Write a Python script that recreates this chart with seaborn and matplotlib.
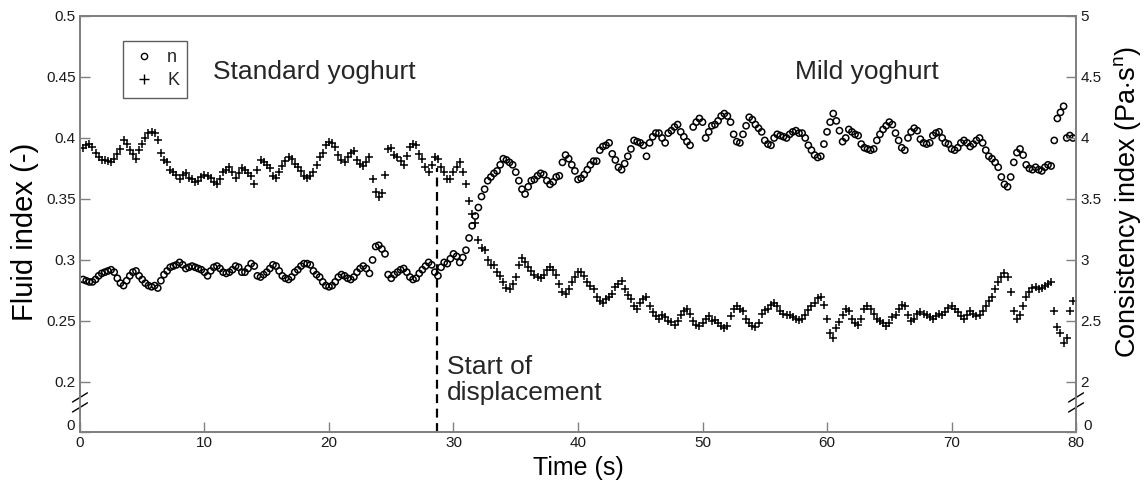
"""Fluid index n and consistency index K during yoghurt displacement"""

import matplotlib
matplotlib.use("Agg")
import matplotlib.pyplot as plt
import numpy as np
import seaborn as sns
from matplotlib.lines import Line2D

sns.set_style("white")
plt.rcParams['font.family'] = ['Liberation Sans', 'DejaVu Sans']
plt.rcParams['mathtext.fontset'] = 'custom'
plt.rcParams['mathtext.rm'] = 'Liberation Sans'

# sampling step of the recording (s)
dt = 0.25

# fluid index n (-), one row = 2.5 s
n_values = [
    .284, .283, .282, .282, .284, .287, .289, .290, .291, .292,
    .290, .285, .281, .279, .283, .287, .290, .291, .287, .284,
    .281, .279, .278, .279, .277, .283, .288, .291, .294, .295,
    .296, .298, .296, .293, .294, .295, .294, .293, .292, .290,
    .287, .291, .294, .295, .293, .290, .289, .290, .292, .295,
    .294, .290, .290, .293, .297, .295, .287, .286, .288, .290,
    .293, .296, .295, .291, .287, .285, .284, .286, .290, .292,
    .295, .297, .297, .296, .291, .288, .286, .282, .279, .278,
    .279, .282, .286, .288, .287, .285, .284, .286, .290, .293,
    .295, .293, .289, .300, .311, .312, .309, .305, .288, .285,
    .288, .290, .292, .293, .290, .286, .284, .285, .289, .292,
    .295, .298, .296, .290, .287, .294, .298, .297, .301, .305,
    .303, .298, .302, .308, .318, .328, .336, .343, .352, .358,
    .365, .368, .371, .373, .378, .383, .382, .380, .378, .372,
    .365, .358, .354, .360, .365, .366, .369, .371, .370, .365,
    .362, .364, .368, .369, .380, .386, .383, .378, .373, .366,
    .367, .370, .374, .378, .381, .381, .390, .393, .394, .396,
    .387, .382, .376, .374, .379, .385, .391, .398, .397, .396,
    .394, .385, .396, .401, .404, .404, .400, .396, .404, .406,
    .409, .411, .405, .401, .397, .394, .409, .413, .416, .413,
    .400, .405, .410, .411, .414, .418, .420, .418, .413, .403,
    .397, .396, .403, .410, .417, .415, .411, .408, .405, .398,
    .395, .394, .400, .403, .402, .401, .400, .403, .405, .406,
    .404, .404, .400, .394, .390, .386, .384, .385, .395, .405,
    .413, .420, .414, .406, .397, .400, .407, .405, .403, .402,
    .395, .392, .391, .390, .391, .398, .403, .407, .410, .413,
    .411, .404, .398, .392, .390, .400, .405, .408, .406, .399,
    .396, .395, .396, .402, .404, .405, .400, .396, .395, .391,
    .390, .392, .396, .398, .396, .393, .395, .398, .400, .396,
    .390, .385, .383, .380, .376, .368, .362, .360, .368, .380,
    .388, .391, .386, .378, .375, .374, .376, .374, .373, .376,
    .378, .377, .398, .416, .421, .426, .400, .402, .400,
]

# consistency index K (Pa.s^n), one row = 2.5 s
k_values = [
    3.92, 3.94, 3.95, 3.93, 3.88, 3.84, 3.82, 3.82, 3.81, 3.80,
    3.83, 3.87, 3.91, 3.98, 3.95, 3.90, 3.87, 3.83, 3.90, 3.95,
    4.00, 4.04, 4.05, 4.04, 3.98, 3.88, 3.82, 3.80, 3.74, 3.72,
    3.70, 3.66, 3.70, 3.71, 3.67, 3.66, 3.64, 3.65, 3.68, 3.70,
    3.69, 3.67, 3.64, 3.62, 3.66, 3.72, 3.74, 3.76, 3.72, 3.67,
    3.71, 3.75, 3.74, 3.71, 3.69, 3.62, 3.74, 3.82, 3.80, 3.78,
    3.75, 3.69, 3.67, 3.72, 3.77, 3.81, 3.84, 3.83, 3.79, 3.76,
    3.73, 3.69, 3.67, 3.69, 3.72, 3.78, 3.84, 3.88, 3.94, 3.97,
    3.96, 3.93, 3.86, 3.82, 3.80, 3.84, 3.88, 3.89, 3.82, 3.79,
    3.77, 3.80, 3.84, 3.66, 3.56, 3.52, 3.55, 3.70, 3.91, 3.92,
    3.86, 3.84, 3.81, 3.78, 3.85, 3.93, 3.95, 3.94, 3.87, 3.83,
    3.76, 3.72, 3.78, 3.84, 3.83, 3.76, 3.72, 3.66, 3.66, 3.72,
    3.76, 3.80, 3.72, 3.62, 3.48, 3.38, 3.30, 3.16, 3.10, 3.08,
    3.00, 2.96, 2.96, 2.90, 2.87, 2.82, 2.77, 2.76, 2.80, 2.86,
    2.96, 3.02, 2.98, 2.94, 2.91, 2.88, 2.86, 2.85, 2.88, 2.92,
    2.94, 2.92, 2.88, 2.80, 2.74, 2.72, 2.76, 2.82, 2.86, 2.90,
    2.90, 2.87, 2.82, 2.79, 2.76, 2.70, 2.66, 2.65, 2.68, 2.70,
    2.72, 2.78, 2.80, 2.83, 2.76, 2.71, 2.68, 2.62, 2.60, 2.65,
    2.68, 2.70, 2.62, 2.57, 2.54, 2.52, 2.55, 2.53, 2.50, 2.49,
    2.47, 2.50, 2.55, 2.58, 2.60, 2.56, 2.50, 2.47, 2.46, 2.48,
    2.52, 2.54, 2.50, 2.51, 2.48, 2.46, 2.44, 2.46, 2.54, 2.60,
    2.62, 2.60, 2.58, 2.52, 2.48, 2.46, 2.45, 2.48, 2.56, 2.59,
    2.60, 2.63, 2.65, 2.62, 2.58, 2.56, 2.55, 2.55, 2.53, 2.52,
    2.51, 2.52, 2.55, 2.59, 2.62, 2.65, 2.69, 2.70, 2.63, 2.52,
    2.40, 2.36, 2.44, 2.49, 2.55, 2.60, 2.58, 2.52, 2.48, 2.47,
    2.52, 2.60, 2.62, 2.60, 2.56, 2.52, 2.50, 2.48, 2.46, 2.48,
    2.53, 2.55, 2.60, 2.63, 2.62, 2.55, 2.50, 2.52, 2.56, 2.57,
    2.56, 2.55, 2.53, 2.52, 2.54, 2.56, 2.55, 2.57, 2.61, 2.62,
    2.60, 2.57, 2.54, 2.52, 2.55, 2.58, 2.56, 2.54, 2.55, 2.58,
    2.62, 2.66, 2.70, 2.76, 2.82, 2.86, 2.89, 2.86, 2.74, 2.58,
    2.52, 2.55, 2.62, 2.70, 2.74, 2.77, 2.78, 2.76, 2.77, 2.79,
    2.80, 2.82, 2.58, 2.45, 2.40, 2.32, 2.36, 2.58, 2.66,
]

time = dt * np.arange(1, len(n_values) + 1)

displacement_start = 28.7
x_ticks = [0, 10, 20, 30, 40, 50, 60, 70, 80]
n_ticks = [0.2, 0.25, 0.3, 0.35, 0.4, 0.45, 0.5]
n_tick_labels = ['0.2', '0.25', '0.3', '0.35', '0.4', '0.45', '0.5']
k_ticks = [2, 2.5, 3, 3.5, 4, 4.5, 5]
k_tick_labels = ['2', '2.5', '3', '3.5', '4', '4.5', '5']

# the axis is broken between 0 and 0.2: zero is drawn just below 0.2
n_zero = 0.159
k_zero = 1.59

grey = '#808080'
ink = '#1a1a1a'

fig = plt.figure(figsize=(11.44, 4.92), dpi=100)
ax = fig.add_axes([0.0699, 0.122, 0.8707, 0.8455])
ax2 = ax.twinx()

sns.scatterplot(x=time, y=n_values, ax=ax, marker='o', s=20, facecolor='none',
                edgecolor='black', linewidth=1.1, legend=False)
sns.scatterplot(x=time, y=k_values, ax=ax2, marker='+', s=34, color='black',
                linewidth=1.1, legend=False)

ax.set_xlim(0, 80)
ax.set_ylim(n_zero, 0.5)
ax2.set_ylim(k_zero, 5)

ax.set_xticks(x_ticks)
# zero labels are drawn by hand below, a bit above the corner as in the original
ax.set_yticks([n_zero] + n_ticks)
ax.set_yticklabels([''] + n_tick_labels)
ax2.set_yticks([k_zero] + k_ticks)
ax2.set_yticklabels([''] + k_tick_labels)

for a in (ax, ax2):
    for side in a.spines.values():
        side.set_color(grey)
        side.set_linewidth(1.3)
    a.tick_params(direction='in', length=7, width=1.0, color=grey,
                  labelsize=11, labelcolor=ink, pad=3)
ax.tick_params(axis='y', left=True, right=False)
ax.tick_params(axis='x', bottom=True, top=False)
ax2.tick_params(axis='y', right=True, left=False)

ax.text(-0.005, 0.014, '0', transform=ax.transAxes, fontsize=11, color=ink,
        ha='right', va='center')
ax.text(1.007, 0.014, '0', transform=ax.transAxes, fontsize=11, color=ink,
        ha='left', va='center')

ax.set_xlabel('Time (s)', fontsize=18, color='black', labelpad=4)
ax.set_ylabel('Fluid index (-)', fontsize=21, color='black', labelpad=5)
ax2.set_ylabel(r'Consistency index (Pa$\cdot$s$^{\mathrm{n}}$)', fontsize=19.5,
               color='black', labelpad=8)
ax.yaxis.label.set_y(0.481)
ax2.yaxis.label.set_y(0.553)

# start of displacement marker
ax.plot([displacement_start, displacement_start], [n_zero, 0.375], color='black',
        linestyle=(0, (4, 2.5)), linewidth=1.6)
ax.text(29.5, 0.2016, 'Start of\ndisplacement', fontsize=19, ha='left', va='center',
        linespacing=1.15)
ax.text(10.7, 0.454, 'Standard yoghurt', fontsize=19, ha='left', va='center')
ax.text(57.4, 0.454, 'Mild yoghurt', fontsize=19, ha='left', va='center')

# axis break marks on both vertical spines
for xc in (0.0, 1.0):
    ax.plot([xc, xc], [0.062, 0.080], transform=ax.transAxes, color='white',
            linewidth=3, clip_on=False, zorder=5)
    for y0 in (0.048, 0.072):
        ax.plot([xc - 0.0075, xc + 0.0075], [y0, y0 + 0.022], transform=ax.transAxes,
                color='black', linewidth=1.0, clip_on=False, zorder=6)

handles = [
    Line2D([], [], marker='o', linestyle='', markerfacecolor='none',
           markeredgecolor='black', markersize=4.5, markeredgewidth=1.0),
    Line2D([], [], marker='+', linestyle='', color='black', markersize=7,
           markeredgewidth=1.0),
]
leg = ax2.legend(handles, ['n', 'K'], loc='upper left', bbox_to_anchor=(0.043, 0.94),
                 borderaxespad=0, frameon=True, fancybox=False, fontsize=13,
                 handlelength=1.4, handletextpad=0.6, labelspacing=0.35,
                 borderpad=0.45)
leg.get_frame().set_edgecolor('#333333')
leg.get_frame().set_linewidth(1.0)

fig.savefig('out.png', dpi=100)
